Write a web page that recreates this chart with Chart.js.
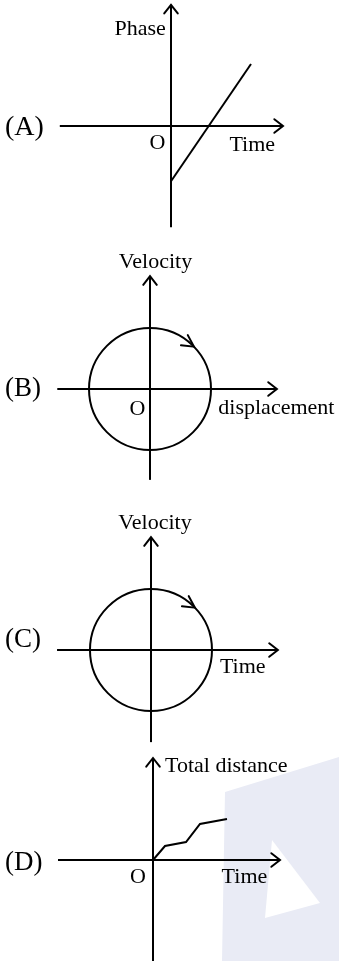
<!DOCTYPE html>
<html lang="en">
<head>
<meta charset="UTF-8">
<title>Phase, velocity and distance graphs</title>
<script src="https://cdn.jsdelivr.net/npm/chart.js"></script>
<style>
  html, body { margin: 0; padding: 0; background: #fff; }
  #page { position: relative; width: 339px; height: 961px; overflow: hidden; }
  #page canvas { position: absolute; left: 0; }
</style>
</head>
<body>
<div id="page">
  <canvas id="chartA" width="339" height="240" style="top:0px"></canvas>
  <canvas id="chartB" width="339" height="250" style="top:240px"></canvas>
  <canvas id="chartC" width="339" height="255" style="top:490px"></canvas>
  <canvas id="chartD" width="339" height="216" style="top:745px"></canvas>
</div>
<script>
// (A) phase grows linearly with time, negative at t = 0
var phaseTime = [0, 2.0];
var phaseValue = [-1.38, 1.55];

// (B) and (C) circle of radius = amplitude, arrow shows clockwise sense
var amplitude = 1;
var arrowAngleDeg = 44;

// (D) total distance against time
var distTime = [0, 0.6, 1.65, 2.35, 3.7];
var distTotal = [0, 0.7, 0.9, 1.8, 2.05];

// where each axis line ends: [xFrom, xTo, yFrom, yTo]
var axisA = [-2.78, 2.8, -2.53, 3.03];
var axisB = [-1.52, 2.08, -1.49, 1.85];
var axisC = [-1.54, 2.08, -1.51, 1.85];
var axisD = [-4.75, 6.35, -5.05, 5.1];

// text
var panelTags = ['(A)', '(B)', '(C)', '(D)'];
var yTitles = ['Phase', 'Velocity', 'Velocity', 'Total distance'];
var xTitles = ['Time', 'displacement', 'Time', 'Time'];
var originTag = 'O';

// faint logo behind (D)
var markOuterX = [3.6, 9.3, 9.3, 3.45];
var markOuterY = [3.4, 5.15, -5.05, -5.05];
var markInnerX = [5.95, 8.35, 5.6];
var markInnerY = [1.0, -2.15, -2.9];

var FONT = '"Liberation Serif", "Times New Roman", serif';

function pts(xs, ys) {
    return xs.map(function(v, i) { return { x: v, y: ys[i] }; });
}

function lineSet(data, extra) {
    return Object.assign({
        data: data,
        borderColor: '#000',
        borderWidth: 2,
        pointRadius: 0,
        tension: 0,
        fill: false
    }, extra || {});
}

function axisSets(ax) {
    return [
        lineSet([{ x: ax[0], y: 0 }, { x: ax[1], y: 0 }], { arrow: true }),
        lineSet([{ x: 0, y: ax[2] }, { x: 0, y: ax[3] }], { arrow: true })
    ];
}

function ringSet() {
    return {
        data: [{ x: 0, y: 0 }],
        showLine: false,
        borderColor: '#000',
        pointBackgroundColor: 'rgba(0,0,0,0)',
        pointBorderColor: '#000',
        pointBorderWidth: 2,
        pointRadius: function(c) {
            var s = c.chart.scales.x;
            return s.getPixelForValue(amplitude) - s.getPixelForValue(0);
        }
    };
}

function chevron(ctx, tx, ty, ang, len, spreadDeg) {
    var spread = spreadDeg * Math.PI / 180;
    ctx.beginPath();
    ctx.moveTo(tx + len * Math.cos(ang + Math.PI - spread), ty + len * Math.sin(ang + Math.PI - spread));
    ctx.lineTo(tx, ty);
    ctx.lineTo(tx + len * Math.cos(ang + Math.PI + spread), ty + len * Math.sin(ang + Math.PI + spread));
    ctx.stroke();
}

// arrowheads and labels, placed through the chart's scales
function decor(texts, ring) {
    return {
        id: 'decor',
        afterDatasetsDraw: function(chart) {
            var ctx = chart.ctx, sx = chart.scales.x, sy = chart.scales.y;
            ctx.save();
            ctx.strokeStyle = '#000';
            ctx.lineWidth = 2;
            ctx.lineCap = 'round';
            ctx.lineJoin = 'miter';
            chart.data.datasets.forEach(function(ds) {
                if (!ds.arrow) return;
                var a = ds.data[ds.data.length - 2], b = ds.data[ds.data.length - 1];
                var x1 = sx.getPixelForValue(a.x), y1 = sy.getPixelForValue(a.y);
                var x2 = sx.getPixelForValue(b.x), y2 = sy.getPixelForValue(b.y);
                chevron(ctx, x2, y2, Math.atan2(y2 - y1, x2 - x1), 11, 38);
            });
            if (ring) {
                var t = arrowAngleDeg * Math.PI / 180;
                var px = sx.getPixelForValue(amplitude * Math.cos(t));
                var py = sy.getPixelForValue(amplitude * Math.sin(t));
                // clockwise tangent, tilted a little outward as in the sketch
                var dir = Math.atan2(Math.cos(t), Math.sin(t)) - 12 * Math.PI / 180;
                chevron(ctx, px, py, dir, 13, 28);
            }
            ctx.fillStyle = '#000';
            ctx.textBaseline = 'alphabetic';
            texts.forEach(function(tx) {
                ctx.font = tx.size + 'px ' + FONT;
                ctx.textAlign = tx.align;
                ctx.fillText(tx.text, sx.getPixelForValue(tx.x), sy.getPixelForValue(tx.y));
            });
            ctx.restore();
        }
    };
}

function makeChart(id, bounds, datasets, texts, ring) {
    return new Chart(document.getElementById(id), {
        type: 'line',
        data: { datasets: datasets },
        options: {
            responsive: false,
            animation: false,
            events: [],
            layout: { padding: 0 },
            plugins: {
                legend: { display: false },
                tooltip: { enabled: false },
                colors: { enabled: false }
            },
            scales: {
                x: { type: 'linear', min: bounds[0], max: bounds[1], display: false },
                y: { type: 'linear', min: bounds[2], max: bounds[3], display: false }
            }
        },
        plugins: [decor(texts, ring)]
    });
}

// (A)
makeChart('chartA', [-4.275, 4.2, -2.85, 3.15],
    [lineSet(pts(phaseTime, phaseValue))].concat(axisSets(axisA)),
    [
        { text: panelTags[0], x: -4.15, y: -0.225, align: 'left', size: 28 },
        { text: yTitles[0], x: -0.13, y: 2.28, align: 'right', size: 22 },
        { text: originTag, x: -0.34, y: -0.575, align: 'center', size: 22 },
        { text: xTitles[0], x: 1.46, y: -0.62, align: 'left', size: 22 }
    ], false);

// (B)
makeChart('chartB', [-2.459, 3.098, -1.656, 2.443],
    [ringSet()].concat(axisSets(axisB)),
    [
        { text: panelTags[1], x: -2.377, y: -0.115, align: 'left', size: 27 },
        { text: yTitles[1], x: 0.09, y: 1.98, align: 'center', size: 22 },
        { text: originTag, x: -0.205, y: -0.426, align: 'center', size: 22 },
        { text: xTitles[1], x: 1.12, y: -0.41, align: 'left', size: 22 }
    ], true);

// (C)
makeChart('chartC', [-2.475, 3.082, -1.557, 2.623],
    [ringSet()].concat(axisSets(axisC)),
    [
        { text: panelTags[2], x: -2.393, y: 0.054, align: 'left', size: 27 },
        { text: yTitles[2], x: 0.066, y: 1.98, align: 'center', size: 22 },
        { text: xTitles[2], x: 1.13, y: -0.37, align: 'left', size: 22 }
    ], true);

// (D)
makeChart('chartD', [-7.65, 9.3, -5.05, 5.75],
    [lineSet(pts(distTime, distTotal))].concat(axisSets(axisD)).concat([
        lineSet(pts(markInnerX, markInnerY), { borderColor: 'rgba(0,0,0,0)', backgroundColor: '#fff', fill: 'shape' }),
        lineSet(pts(markOuterX, markOuterY), { borderColor: 'rgba(0,0,0,0)', backgroundColor: '#e9ebf5', fill: 'shape' })
    ]),
    [
        { text: panelTags[3], x: -7.4, y: -0.5, align: 'left', size: 27 },
        { text: yTitles[3], x: 0.6, y: 4.4, align: 'left', size: 22 },
        { text: originTag, x: -0.75, y: -1.13, align: 'center', size: 22 },
        { text: xTitles[3], x: 3.43, y: -1.14, align: 'left', size: 22 }
    ], false);
</script>
</body>
</html>
